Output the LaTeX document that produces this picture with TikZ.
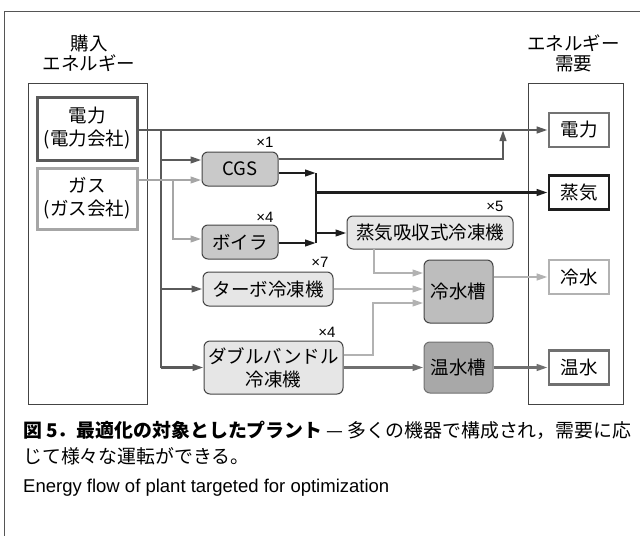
\documentclass[tikz,border=0pt]{standalone}
\usepackage{fontspec}
\setmainfont{Liberation Sans}
\newfontfamily\jp{Noto Sans CJK JP}
\usetikzlibrary{arrows.meta}
\definecolor{cFrame}{HTML}{555555}
\definecolor{cElec}{HTML}{5A5A5A}
\definecolor{cGas}{HTML}{A6A6A6}
\definecolor{cSteam}{HTML}{1E1E1E}
\definecolor{cCold}{HTML}{B2B2B2}
\definecolor{cHot}{HTML}{707070}
\definecolor{cEdge}{HTML}{444444}
\definecolor{fDark}{HTML}{C9C9C9}
\definecolor{fLight}{HTML}{E6E6E6}
\definecolor{fCold}{HTML}{BDBDBD}
\definecolor{fHot}{HTML}{A8A8A8}
\tikzset{
  arr/.style={-{Triangle[length=11pt,width=6.5pt]}},
  ln/.style={line width=2.4pt},
  elecln/.style={ln,draw=cElec},
  gasln/.style={ln,draw=cGas},
  steamln/.style={ln,draw=cSteam},
  coldln/.style={ln,draw=cCold},
  hotln/.style={ln,draw=cHot},
  jpt/.style={font=\jp\fontsize{18.5}{23}\selectfont},
  srcbox/.style={draw,line width=3pt,fill=white,align=center,inner sep=0pt,jpt},
  dembox/.style={draw,line width=2.6pt,fill=white,align=center,inner sep=0pt,jpt,minimum width=60pt,minimum height=34pt},
  unit/.style={draw=cEdge,line width=1pt,rounded corners=6pt,align=center,inner sep=0pt,jpt},
  mult/.style={font=\fontsize{15}{15}\selectfont,inner sep=0pt},
  panel/.style={draw=cEdge,line width=1pt},
  ttl/.style={align=center,inner sep=0pt,font=\jp\fontsize{18.5}{20}\selectfont}
}
\begin{document}
\begin{tikzpicture}[x=1pt,y=-1pt]
\useasboundingbox (0,0) rectangle (640,536);
% frame
\draw[cFrame,line width=1pt] (640,11) -- (4,11) -- (4,536);
% titles
\node[ttl] (tl) at (89,53) {購入\\エネルギー};
\node[ttl] (tr) at (573.5,53) {エネルギー\\需要};
% panels
\draw[panel] (28,83) rectangle (147,404);
\draw[panel] (528,83) rectangle (623,404);
% sources
\node[srcbox,draw=cElec,minimum width=100pt,minimum height=63pt] (srcE) at (87,128.5) {電力\\(電力会社)};
\node[srcbox,draw=cGas,minimum width=100pt,minimum height=61pt] (srcG) at (87,198.5) {ガス\\(ガス会社)};
% demands
\node[dembox,draw=cElec!85] (dE) at (579,130) {電力};
\node[dembox,draw=cSteam] (dS) at (579,192.5) {蒸気};
\node[dembox,draw=cCold] (dC) at (579,277) {冷水};
\node[dembox,draw=cHot] (dH) at (579,367.5) {温水};
% units
\node[unit,fill=fDark,minimum width=76pt,minimum height=34pt] (cgs) at (240,169) {CGS};
\node[unit,fill=fDark,minimum width=76pt,minimum height=34pt] (boi) at (240,242) {ボイラ};
\node[unit,fill=fLight,minimum width=166pt,minimum height=33pt] (abs) at (430,232.5) {蒸気吸収式冷凍機};
\node[unit,fill=fLight,minimum width=130pt,minimum height=34pt] (turbo) at (268,289) {ターボ冷凍機};
\node[unit,fill=fLight,minimum width=139pt,minimum height=53pt] (dbl) at (273.5,367.5) {ダブルバンドル\\冷凍機};
\node[unit,fill=fCold,minimum width=69pt,minimum height=63pt] (ctank) at (458.5,291.5) {冷水槽};
\node[unit,fill=fHot,draw=cHot,minimum width=69pt,minimum height=51pt] (htank) at (458.5,367.5) {温水槽};
% multipliers
\node[mult] (m1) at (265,142) {×1};
\node[mult] (m2) at (265,217) {×4};
\node[mult] (m3) at (495,206) {×5};
\node[mult] (m4) at (320,262) {×7};
\node[mult] (m5) at (327,332) {×4};
% coordinates
\coordinate (tTop) at (161,130);
\coordinate (gSplit) at (173,180);
\coordinate (sBarT) at (316,173);
\coordinate (sBarB) at (316,243);
\coordinate (cgsUp) at (503,130);
\coordinate (absDown) at (374,249);
\coordinate (dblUp) at (373,303);
% electricity
\draw[elecln,arr] (srcE.east |- dE) -- (dE.west);
\draw[elecln] (tTop) -- (tTop |- dbl);
\draw[elecln,arr] (tTop |- 0,160) -- (cgs.west |- 0,160);
\draw[elecln,arr] (tTop |- turbo) -- (turbo.west);
\draw[elecln,arr] (tTop |- dbl) -- (dbl.west);
\draw[elecln,arr] (cgs.east |- 0,159) -| (cgsUp);
% gas
\draw[gasln,arr] (srcG.east |- gSplit) -- (cgs.west |- gSplit);
\draw[gasln,arr] (gSplit) |- (boi.west |- 0,239);
% steam
\draw[steamln,arr] (cgs.east |- sBarT) -- (sBarT);
\draw[steamln,arr] (boi.east |- sBarB) -- (sBarB);
\draw[steamln] (sBarT) -- (sBarB);
\draw[steamln,arr] (sBarT |- dS) -- (dS.west);
\draw[steamln,arr] (sBarT |- 0,233) -- (abs.west |- 0,233);
% cold water
\draw[coldln,arr] (absDown) |- (ctank.west |- 0,273);
\draw[coldln,arr] (turbo.east) -- (ctank.west |- turbo);
\draw[coldln,arr] (dbl.east |- 0,355) -| (dblUp) -- (ctank.west |- dblUp);
\draw[coldln,arr] (ctank.east |- dC) -- (dC.west);
% hot water
\draw[hotln,arr] (dbl.east |- htank) -- (htank.west);
\draw[hotln,arr] (htank.east) -- (dH.west);
% caption
\node[anchor=west,inner sep=0pt,font=\jp\fontsize{18.9}{19}\selectfont] (cap1) at (23,430) {{\bfseries 図 5．最適化の対象としたプラント} — 多くの機器で構成され，需要に応};
\node[anchor=west,inner sep=0pt,font=\jp\fontsize{18.9}{19}\selectfont] (cap2) at (23,456) {じて様々な運転ができる。};
\node[anchor=west,inner sep=0pt,font=\fontsize{18.5}{18.5}\selectfont] (cap3) at (23,488) {Energy flow of plant targeted for optimization};
\end{tikzpicture}
\end{document}
